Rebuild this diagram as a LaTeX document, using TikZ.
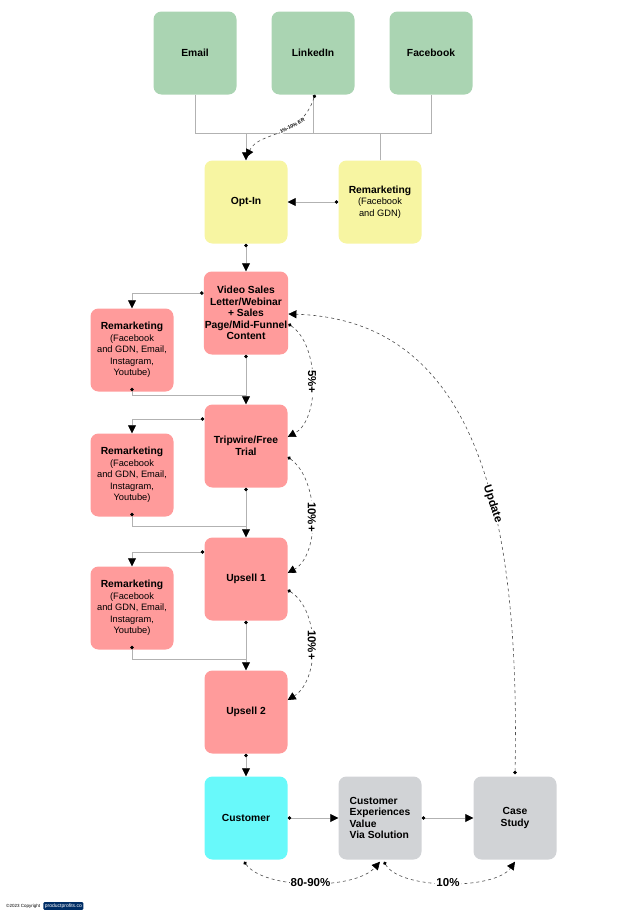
\documentclass[tikz,border=0pt]{standalone}
\usepackage{fontspec}
\setmainfont{Liberation Sans}
\usetikzlibrary{arrows.meta}
\definecolor{chgreen}{HTML}{AAD4B2}
\definecolor{chyellow}{HTML}{F7F5A2}
\definecolor{chred}{HTML}{FF9B9B}
\definecolor{chcyan}{HTML}{68F9FA}
\definecolor{chgrey}{HTML}{D1D3D6}
\newcommand\subtxt{\fontsize{9.3}{10.5}\selectfont\mdseries}
\tikzset{
  card/.style={rounded corners=8pt, minimum width=83pt, minimum height=83pt, align=center, font=\fontsize{10.3}{11.5}\selectfont\bfseries, inner sep=1pt},
  link/.style={draw=black!30, line width=0.7pt},
  flow/.style={link, {Circle[black,length=3.5pt]}-{Triangle[black,length=8pt,width=8pt]}},
  rate/.style={draw=black!70, dashed, line width=0.6pt, {Circle[black,length=3.5pt]}-{Triangle[black,length=8pt,width=8pt]}},
  pct/.style={font=\fontsize{11.5}{13}\selectfont\bfseries, fill=white, inner sep=1pt}
}
\begin{document}
\begin{tikzpicture}[x=1pt,y=-1pt]
    \useasboundingbox (0,0) rectangle (626,913);

    % sources
    \node[card, fill=chgreen] (email) at (195,53) {Email};
    \node[card, fill=chgreen] (linkedin) at (313,53) {LinkedIn};
    \node[card, fill=chgreen] (facebook) at (431,53) {Facebook};

    \node[card, fill=chyellow] (optin) at (246,202) {Opt-In};
    \node[card, fill=chyellow] (remopt) at (380,202) {Remarketing\\\subtxt(Facebook\\\subtxt and GDN)};

    % funnel
    \node[card, fill=chred] (vsl) at (246,313) {Video Sales\\Letter/Webinar\\+ Sales\\Page/Mid-Funnel\\Content};
    \node[card, fill=chred] (tripwire) at (246,446) {Tripwire/Free\\Trial};
    \node[card, fill=chred] (upsella) at (246,579) {Upsell 1};
    \node[card, fill=chred] (upsellb) at (246,712) {Upsell 2};

    \node[card, fill=chred] (rema) at (132,350) {Remarketing\\\subtxt(Facebook\\\subtxt and GDN, Email,\\\subtxt Instagram,\\\subtxt Youtube)};
    \node[card, fill=chred] (remb) at (132,475) {Remarketing\\\subtxt(Facebook\\\subtxt and GDN, Email,\\\subtxt Instagram,\\\subtxt Youtube)};
    \node[card, fill=chred] (remc) at (132,608) {Remarketing\\\subtxt(Facebook\\\subtxt and GDN, Email,\\\subtxt Instagram,\\\subtxt Youtube)};

    % after purchase
    \node[card, fill=chcyan] (customer) at (246,818) {Customer};
    \node[card, fill=chgrey, align=left] (value) at (380,818) {Customer\\Experiences\\Value\\Via Solution};
    \node[card, fill=chgrey] (casestudy) at (515,818) {Case\\Study};

    % top bus
    \coordinate (bus) at (246,133);
    \draw[link] (email.south) |- (facebook.south |- bus) -- (facebook.south);
    \draw[link] (linkedin.south) -- (linkedin.south |- bus);
    \draw[link] (remopt.north) -- (remopt.north |- bus);
    \draw[link, -{Triangle[black,length=8pt,width=8pt]}] (bus) -- (optin.north);
    \draw[rate] ([xshift=2pt]linkedin.south) .. controls (300,140) and (260,130) .. ([yshift=3pt]optin.north)
        node[pos=0.35, fill=white, inner sep=0.5pt, rotate=28, font=\fontsize{5}{6}\selectfont\bfseries] {1\%-10\% ER};

    \draw[flow] (remopt.west) -- (optin.east);
    \draw[flow] (optin.south) -- (vsl.north);

    % funnel steps
    \draw[flow] ([yshift=20pt]vsl.west) -| (rema.north);
    \draw[flow] (vsl.south) -- (tripwire.north);
    \draw[link, {Circle[black,length=3.5pt]}-] ([yshift=4pt]rema.south) |- (246,395);

    \draw[flow] ([yshift=27pt]tripwire.west) -| (remb.north);
    \draw[flow] (tripwire.south) -- (upsella.north);
    \draw[link, {Circle[black,length=3.5pt]}-] ([yshift=4pt]remb.south) |- (246,526);

    \draw[flow] ([yshift=27pt]upsella.west) -| (remc.north);
    \draw[flow] (upsella.south) -- (upsellb.north);
    \draw[link, {Circle[black,length=3.5pt]}-] ([yshift=4pt]remc.south) |- (246,659);

    \draw[flow] (upsellb.south) -- (customer.north);
    \draw[flow] (customer.east) -- (value.west);
    \draw[flow] (value.east) -- (casestudy.west);

    % conversion rates
    \draw[rate] ([yshift=-11pt]vsl.east) .. controls (320,345) and (320,420) .. ([yshift=9pt]tripwire.east)
        node[midway, pct, rotate=-90] {5\%+};
    \draw[rate] ([yshift=-11pt]tripwire.east) .. controls (320,480) and (320,555) .. ([yshift=6pt]upsella.east)
        node[midway, pct, rotate=-90] {10\%+};
    \draw[rate] ([yshift=-11pt]upsella.east) .. controls (320,610) and (320,680) .. ([yshift=12pt]upsellb.east)
        node[midway, pct, rotate=-90] {10\%+};
    \draw[rate] ([yshift=2pt]casestudy.north) .. controls (520,520) and (480,320) .. ([yshift=-1pt]vsl.east)
        node[pos=0.4, pct, rotate=-72] {Update};
    \draw[rate] ([xshift=-2pt,yshift=-2pt]customer.south) .. controls (265,890) and (355,890) .. ([yshift=-2pt]value.south)
        node[midway, pct] {80-90\%};
    \draw[rate] ([xshift=4pt,yshift=-2pt]value.south) .. controls (400,890) and (495,890) .. ([yshift=-2pt]casestudy.south)
        node[midway, pct] {10\%};

    % footer
    \node[font=\fontsize{4.5}{5}\selectfont, anchor=west, inner sep=0pt] (copy) at (6,906) {\textcopyright2023 Copyright};
    \node[font=\fontsize{5}{6}\selectfont, anchor=west, fill=black!70!green!60!blue, text=white, rounded corners=1pt, inner sep=1.5pt] (brand) at ([xshift=3pt]copy.east) {productprofits.co};
\end{tikzpicture}
\end{document}
